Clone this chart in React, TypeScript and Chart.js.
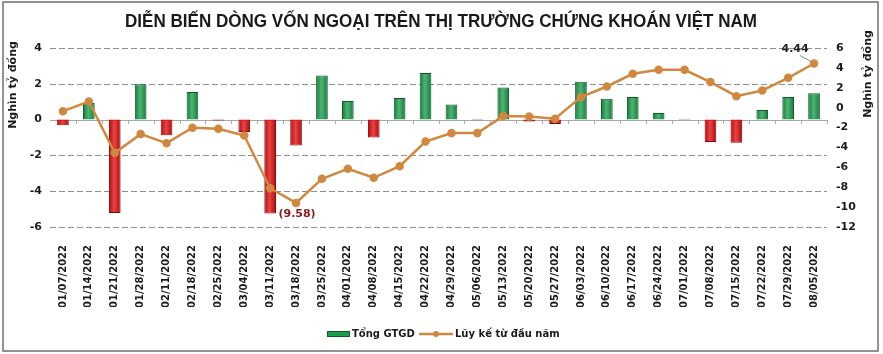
import React, { useEffect, useRef } from "react";
import { Chart, registerables } from "chart.js";

Chart.register(...registerables);

const chartTitle = "DIỄN BIẾN DÒNG VỐN NGOẠI TRÊN THỊ TRƯỜNG CHỨNG KHOÁN VIỆT NAM";
const axisTitle = "Nghìn tỷ đồng";
const barLabel = "Tổng GTGD";
const lineLabel = "Lũy kế từ đầu năm";

const categories = [
  "01/07/2022", "01/14/2022", "01/21/2022", "01/28/2022", "02/11/2022",
  "02/18/2022", "02/25/2022", "03/04/2022", "03/11/2022", "03/18/2022",
  "03/25/2022", "04/01/2022", "04/08/2022", "04/15/2022", "04/22/2022",
  "04/29/2022", "05/06/2022", "05/13/2022", "05/20/2022", "05/27/2022",
  "06/03/2022", "06/10/2022", "06/17/2022", "06/24/2022", "07/01/2022",
  "07/08/2022", "07/15/2022", "07/22/2022", "07/29/2022", "08/05/2022",
];

const weeklyFlow = [
  -0.32, 0.93, -5.22, 1.97, -0.88, 1.54, -0.05, -0.69, -5.25, -1.45,
  2.47, 1.04, -1.0, 1.21, 2.6, 0.85, -0.03, 1.79, -0.1, -0.25,
  2.12, 1.17, 1.26, 0.37, 0.05, -1.25, -1.29, 0.54, 1.26, 1.47,
];

const cumulative = [
  -0.35, 0.62, -4.54, -2.66, -3.57, -2.02, -2.12, -2.8, -8.1, -9.58,
  -7.15, -6.15, -7.05, -5.88, -3.4, -2.56, -2.56, -0.85, -0.9, -1.12,
  1.06, 2.13, 3.41, 3.81, 3.81, 2.57, 1.16, 1.73, 3.0, 4.44,
];

const leftMin = -6;
const leftMax = 4;
const rightMin = -12;
const rightMax = 6;
const tickStep = 2;

const GREEN = "#1b9e4b";
const GREEN_DARK = "#0b5a27";
const RED = "#e30d0d";
const RED_DARK = "#8a0606";
const ORANGE = "#d0883f";
const FONT = "'DejaVu Sans', sans-serif";

const decorations = {
  id: "decorations",
  beforeDatasetsDraw(chart: any) {
    const { ctx, chartArea, scales } = chart;
    ctx.save();
    // dashed grid lines at the left scale's tick values
    ctx.strokeStyle = "#8f8f8f";
    ctx.lineWidth = 1;
    ctx.setLineDash([6, 3]);
    for (let v = leftMin; v <= leftMax; v += tickStep) {
      if (v === 0) continue;
      const py = Math.round(scales.y.getPixelForValue(v)) + 0.5;
      ctx.beginPath();
      ctx.moveTo(chartArea.left, py);
      ctx.lineTo(chartArea.right, py);
      ctx.stroke();
    }
    ctx.setLineDash([]);

    // zero line with category tick marks
    const y0 = Math.round(scales.y.getPixelForValue(0));
    const half = (scales.x.getPixelForValue(1) - scales.x.getPixelForValue(0)) / 2;
    ctx.fillStyle = "#a8a8a8";
    ctx.fillRect(chartArea.left, y0, chartArea.right - chartArea.left, 1);
    for (let i = 0; i < categories.length; i++) {
      const px = Math.round(scales.x.getPixelForValue(i) + half);
      ctx.fillRect(px, y0, 1, 4);
    }
    ctx.restore();
  },
  afterDatasetDraw(chart: any, args: any) {
    if (args.index !== 0) return;
    const { ctx } = chart;
    const meta = chart.getDatasetMeta(0);
    ctx.save();
    meta.data.forEach((el: any) => {
      const w = el.width;
      const left = el.x - w / 2;
      const top = Math.min(el.y, el.base);
      const h = Math.abs(el.base - el.y);
      const g = ctx.createLinearGradient(left, 0, left + w, 0);
      g.addColorStop(0, "rgba(0,0,0,0.22)");
      g.addColorStop(0.45, "rgba(255,255,255,0.22)");
      g.addColorStop(1, "rgba(0,0,0,0.25)");
      ctx.fillStyle = g;
      ctx.fillRect(left + 1, top + 1, w - 2, Math.max(0, h - 2));
    });
    ctx.restore();
  },
  afterDraw(chart: any) {
    const { ctx } = chart;
    ctx.save();
    // title
    ctx.font = `bold 19px 'Liberation Sans Narrow', 'Liberation Sans', sans-serif`;
    ctx.fillStyle = "#1a1a1a";
    ctx.textAlign = "center";
    ctx.textBaseline = "middle";
    const tw = ctx.measureText(chartTitle).width;
    ctx.save();
    ctx.translate(441, 22);
    ctx.scale(632 / tw, 1);
    ctx.fillText(chartTitle, 0, 0);
    ctx.restore();

    // axis titles
    ctx.font = `bold 11px ${FONT}`;
    ctx.fillStyle = "#1a1a1a";
    ctx.save();
    ctx.translate(13, 85);
    ctx.rotate(-Math.PI / 2);
    ctx.fillText(axisTitle, 0, 0);
    ctx.restore();
    ctx.save();
    ctx.translate(868, 74);
    ctx.rotate(-Math.PI / 2);
    ctx.fillText(axisTitle, 0, 0);
    ctx.restore();

    // point labels
    const lineMeta = chart.getDatasetMeta(1);
    const minIdx = cumulative.indexOf(Math.min(...cumulative));
    const pMin = lineMeta.data[minIdx];
    ctx.font = `bold 11px ${FONT}`;
    ctx.fillStyle = "#8b1a1a";
    ctx.fillText(`(${Math.abs(cumulative[minIdx]).toFixed(2)})`, pMin.x + 1, pMin.y + 11);

    const lastIdx = cumulative.length - 1;
    const pLast = lineMeta.data[lastIdx];
    ctx.fillStyle = "#222";
    ctx.fillText(cumulative[lastIdx].toFixed(2), pLast.x - 19, pLast.y - 14);
    ctx.strokeStyle = "#888";
    ctx.lineWidth = 1;
    ctx.beginPath();
    ctx.moveTo(pLast.x - 14, pLast.y - 8);
    ctx.lineTo(pLast.x - 3, pLast.y - 2);
    ctx.stroke();

    // legend
    const ly = 334;
    ctx.fillStyle = GREEN;
    ctx.strokeStyle = GREEN_DARK;
    ctx.fillRect(327, ly - 2.5, 23, 5);
    ctx.strokeRect(327.5, ly - 2.5, 22, 5);
    ctx.font = `bold 10px ${FONT}`;
    ctx.fillStyle = "#1a1a1a";
    ctx.textAlign = "left";
    ctx.fillText(barLabel, 352, ly);
    ctx.strokeStyle = ORANGE;
    ctx.lineWidth = 2.5;
    ctx.beginPath();
    ctx.moveTo(419, ly);
    ctx.lineTo(453, ly);
    ctx.stroke();
    ctx.fillStyle = ORANGE;
    ctx.beginPath();
    ctx.arc(436, ly, 3, 0, Math.PI * 2);
    ctx.fill();
    ctx.fillStyle = "#1a1a1a";
    ctx.fillText(lineLabel, 455, ly);

    // frame
    ctx.strokeStyle = "#6f6f6f";
    ctx.lineWidth = 1.5;
    ctx.strokeRect(3, 2, 875, 349);
    ctx.restore();
  },
};

export default function App() {
  const canvasRef = useRef<HTMLCanvasElement | null>(null);

  useEffect(() => {
    if (!canvasRef.current) return;
    const chart = new Chart(canvasRef.current, {
      type: "bar",
      data: {
        labels: categories,
        datasets: [
          {
            type: "bar",
            label: barLabel,
            data: weeklyFlow,
            yAxisID: "y",
            backgroundColor: weeklyFlow.map((v) => (v >= 0 ? GREEN : RED)),
            borderColor: weeklyFlow.map((v) => (v >= 0 ? GREEN_DARK : RED_DARK)),
            borderWidth: 1,
            barPercentage: 0.45,
            categoryPercentage: 1,
            order: 2,
          },
          {
            type: "line",
            label: lineLabel,
            data: cumulative,
            yAxisID: "y1",
            borderColor: ORANGE,
            backgroundColor: ORANGE,
            borderWidth: 2.5,
            pointRadius: 3,
            pointBackgroundColor: ORANGE,
            pointBorderColor: ORANGE,
            tension: 0,
            order: 1,
          },
        ],
      },
      options: {
        animation: false,
        responsive: false,
        maintainAspectRatio: false,
        layout: { padding: { top: 48, bottom: 47, left: 0, right: 0 } },
        plugins: {
          legend: { display: false },
          title: { display: false },
          tooltip: { enabled: false },
        },
        scales: {
          x: {
            grid: { display: false },
            border: { display: false },
            ticks: {
              autoSkip: false,
              minRotation: 90,
              maxRotation: 90,
              padding: 10,
              color: "#1a1a1a",
              font: { family: FONT, weight: "bold", size: 10 },
            },
            afterFit: (s: any) => {
              s.height = 80;
            },
          },
          y: {
            position: "left",
            min: leftMin,
            max: leftMax,
            ticks: {
              stepSize: tickStep,
              padding: 8,
              color: "#1a1a1a",
              font: { family: FONT, weight: "bold", size: 11 },
            },
            grid: { display: false, drawTicks: false },
            border: { display: false },
            afterFit: (s: any) => {
              s.width = 50;
            },
          },
          y1: {
            position: "right",
            min: rightMin,
            max: rightMax,
            ticks: {
              stepSize: tickStep,
              padding: 9,
              color: "#1a1a1a",
              font: { family: FONT, weight: "bold", size: 11 },
            },
            grid: { drawOnChartArea: false, drawTicks: false },
            border: { display: false },
            afterFit: (s: any) => {
              s.width = 56;
            },
          },
        },
      },
      plugins: [decorations],
    } as any);
    return () => chart.destroy();
  }, []);

  return (
    <div style={{ position: "fixed", left: 0, top: 0, width: 883, height: 354, background: "#fff" }}>
      <canvas ref={canvasRef} width={883} height={354} style={{ display: "block", width: 883, height: 354 }} />
    </div>
  );
}
